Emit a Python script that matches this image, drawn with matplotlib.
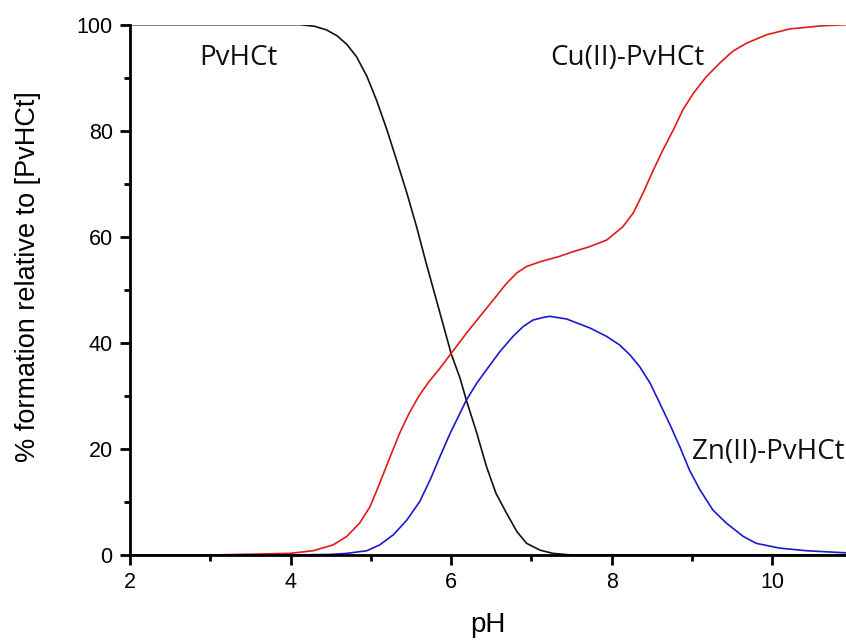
import matplotlib
matplotlib.use("Agg")
import matplotlib.pyplot as plt
from matplotlib.ticker import MultipleLocator

# species distribution (pH, % formation)
ph_free = [2.0, 3.0, 3.87, 4.12, 4.30, 4.45, 4.58, 4.70, 4.82, 4.95, 5.07, 5.20,
           5.32, 5.45, 5.57, 5.69, 5.80, 5.90, 6.0, 6.11, 6.19, 6.32, 6.44, 6.56,
           6.69, 6.82, 6.94, 7.11, 7.27, 7.5, 8.0, 9.0, 10.92]
pct_free = [100, 100, 100, 100, 99.7, 99.0, 97.9, 96.3, 94.0, 90.3, 85.8, 80.2,
            74.5, 68.2, 61.9, 55.0, 49.0, 43.5, 38.0, 33.4, 29.2, 23.0, 16.7,
            11.6, 7.9, 4.4, 2.2, 0.9, 0.3, 0.0, 0.0, 0.0, 0.0]

ph_cu = [2.0, 3.0, 3.99, 4.28, 4.53, 4.70, 4.86, 4.99, 5.11, 5.24, 5.36, 5.48,
         5.60, 5.72, 5.85, 6.0, 6.19, 6.36, 6.52, 6.69, 6.82, 6.94, 7.11, 7.35,
         7.52, 7.72, 7.94, 8.14, 8.27, 8.39, 8.52, 8.64, 8.77, 8.89, 9.02, 9.18,
         9.35, 9.51, 9.68, 9.93, 10.22, 10.63, 10.92]
pct_cu = [0.0, 0.0, 0.3, 0.8, 1.9, 3.5, 6.0, 9.1, 13.5, 18.5, 23.0, 26.8,
          30.0, 32.6, 35.0, 38.0, 41.8, 45.0, 48.0, 51.2, 53.2, 54.4, 55.3, 56.3,
          57.2, 58.1, 59.4, 61.9, 64.5, 68.2, 72.6, 76.4, 80.2, 84.0, 87.1, 90.2,
          92.8, 95.0, 96.5, 98.1, 99.2, 99.8, 100.0]

ph_zn = [2.0, 3.0, 4.0, 4.5, 4.70, 4.95, 5.11, 5.28, 5.45, 5.61, 5.74, 5.86,
         5.99, 6.11, 6.19, 6.32, 6.44, 6.61, 6.77, 6.90, 7.02, 7.15, 7.23, 7.44,
         7.73, 7.94, 8.10, 8.23, 8.35, 8.48, 8.60, 8.72, 8.85, 8.97, 9.10, 9.26,
         9.43, 9.64, 9.80, 10.09, 10.43, 10.92]
pct_zn = [0.0, 0.0, 0.0, 0.1, 0.3, 0.8, 1.9, 3.8, 6.6, 10.1, 14.2, 18.5,
          23.0, 26.7, 29.2, 32.4, 34.9, 38.4, 41.2, 43.1, 44.3, 44.8, 45.0, 44.5,
          42.8, 41.2, 39.6, 37.7, 35.5, 32.4, 28.6, 24.8, 20.4, 16.0, 12.3, 8.5,
          6.0, 3.5, 2.2, 1.3, 0.8, 0.4]

labels = ["PvHCt", "Cu(II)-PvHCt", "Zn(II)-PvHCt"]
label_pos = [(3.35, 93.8), (8.2, 93.8), (9.95, 19.4)]

fig = plt.figure(figsize=(8.46, 6.41), dpi=100)
ax = fig.add_axes([0.1537, 0.1342, 0.8463, 0.8273])

ax.plot(ph_free, pct_free, color="#111111", lw=1.2)
ax.plot(ph_cu, pct_cu, color="#e01b1b", lw=1.2)
ax.plot(ph_zn, pct_zn, color="#1a1acc", lw=1.2)

for text, (x, y) in zip(labels, label_pos):
    ax.text(x, y, text, ha="center", va="center", fontsize=20,
            family="Open Sans", color="#111111")

ax.set_xlim(2, 10.92)
ax.set_ylim(0, 100)
ax.xaxis.set_major_locator(MultipleLocator(2))
ax.xaxis.set_minor_locator(MultipleLocator(1))
ax.yaxis.set_major_locator(MultipleLocator(20))
ax.yaxis.set_minor_locator(MultipleLocator(10))

for side in ("top", "right"):
    ax.spines[side].set_visible(False)
for side in ("left", "bottom"):
    ax.spines[side].set_linewidth(2)

ax.tick_params(which="major", direction="out", length=7.5, width=2,
               labelsize=15.5, pad=5)
ax.tick_params(which="minor", direction="out", length=4.5, width=2)
for lab in ax.get_xticklabels() + ax.get_yticklabels():
    lab.set_family("Liberation Sans")

ax.set_xlabel("pH", fontsize=20, family="Liberation Sans")
ax.set_ylabel("% formation relative to [PvHCt]", fontsize=19.5,
              family="Liberation Sans")
ax.xaxis.set_label_coords(0.5, -0.108)
ax.yaxis.set_label_coords(-0.124, 0.525)

fig.savefig("out.png", dpi=100)
